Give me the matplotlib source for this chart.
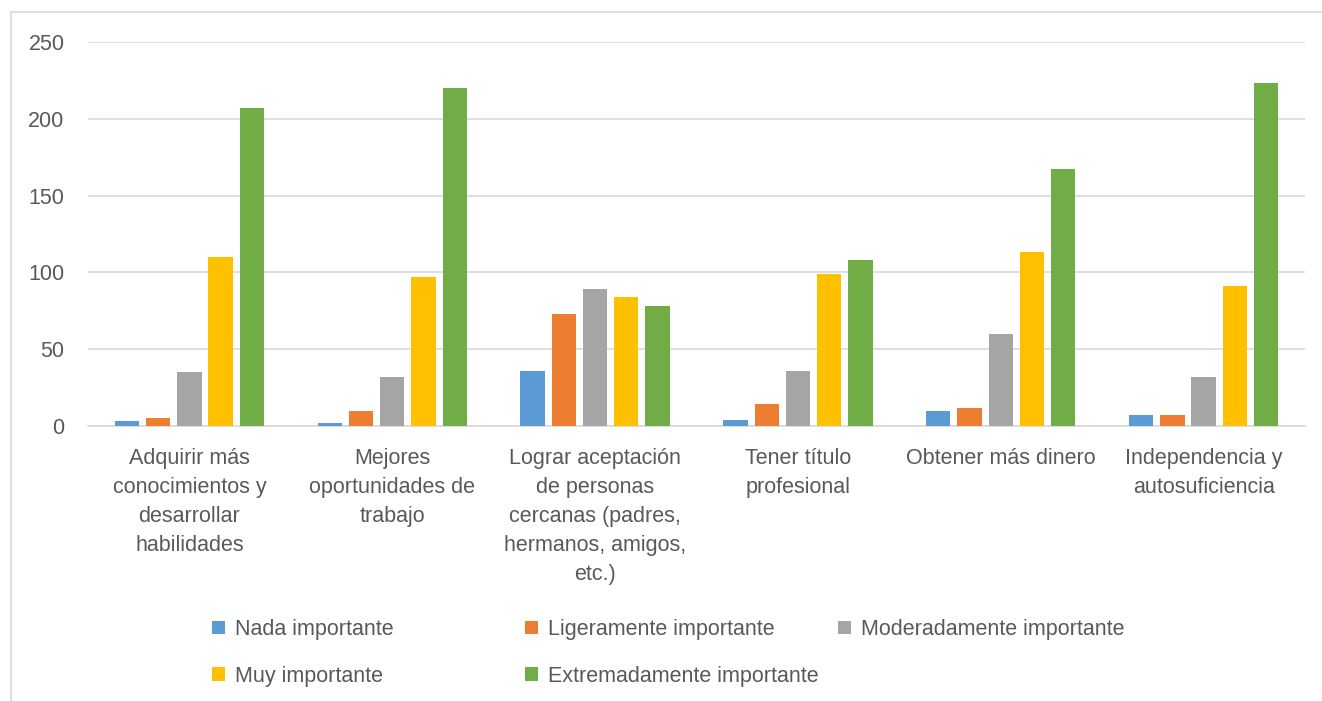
import numpy as np
import matplotlib.pyplot as plt
from matplotlib.patches import Patch, Rectangle

plt.rcParams['font.family'] = ['Liberation Sans', 'DejaVu Sans']

categories = [
    'Adquirir más\nconocimientos y\ndesarrollar\nhabilidades',
    'Mejores\noportunidades de\ntrabajo',
    'Lograr aceptación\nde personas\ncercanas (padres,\nhermanos, amigos,\netc.)',
    'Tener título\nprofesional',
    'Obtener más dinero',
    'Independencia y\nautosuficiencia',
]
series_names = ['Nada importante', 'Ligeramente importante', 'Moderadamente importante',
                'Muy importante', 'Extremadamente importante']
nada = [3, 2, 36, 4, 10, 7]
ligera = [5, 10, 73, 14, 12, 7]
moderada = [35, 32, 89, 36, 60, 32]
muy = [110, 97, 84, 99, 113, 91]
extrema = [207, 220, 78, 108, 167, 223]
values = [nada, ligera, moderada, muy, extrema]
colors = ['#5B9BD5', '#ED7D31', '#A5A5A5', '#FFC000', '#70AD47']

text_c = '#595959'
grid_c = '#D9D9D9'

fig = plt.figure(figsize=(13.22, 7.01), dpi=100)
ax = fig.add_axes([88/1322, 1 - 426/701, (1305 - 88)/1322, (426 - 42)/701])

# chart border
fig.patches.append(Rectangle((11/1322, -0.05), 1.1, 1 - 12/701 + 0.05,
                             transform=fig.transFigure, fill=False,
                             edgecolor=grid_c, linewidth=1.2))

x = np.arange(len(categories))
pitch = 0.154
width = 0.12
for i, (vals, c) in enumerate(zip(values, colors)):
    ax.bar(x + (i - 2) * pitch, vals, width, color=c, zorder=3)

ax.set_xlim(-0.5, len(categories) - 0.5)
ax.set_ylim(0, 250)
ax.set_yticks(range(0, 251, 50))
ax.yaxis.grid(True, color=grid_c, linewidth=1.2, zorder=0)
for s in ['top', 'right', 'left']:
    ax.spines[s].set_visible(False)
ax.spines['bottom'].set_color(grid_c)
ax.spines['bottom'].set_linewidth(1.2)
ax.tick_params(axis='both', length=0, colors=text_c, labelsize=15.5)
ax.tick_params(axis='y', pad=17)
ax.tick_params(axis='x', pad=16)
ax.set_xticks(x)
ax.set_xticklabels(categories, linespacing=1.5)

handles = [Patch(facecolor=c) for c in colors]
cols = [[0, 3], [1, 4], [2]]
col_x = [212/1322, 525/1322, 838/1322]
for xs, idx in zip(col_x, cols):
    fig.legend([handles[k] for k in idx], [series_names[k] for k in idx],
               loc='upper left', bbox_to_anchor=(xs, 1 - 619/701), frameon=False,
               fontsize=15.5, labelcolor=text_c, handlelength=0.6, handleheight=0.6,
               handletextpad=0.45, labelspacing=1.2, borderpad=0, borderaxespad=0)

fig.savefig('out.png', dpi=100)
